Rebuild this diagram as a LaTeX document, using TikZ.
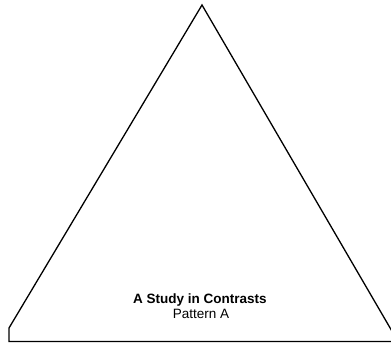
\documentclass[tikz,border=0pt]{standalone}
\usepackage{fontspec}
\setmainfont{Liberation Sans}
\usetikzlibrary{positioning}
\tikzset{
  outline/.style = {draw, line width=1.3pt, line join=miter},
  caption/.style = {align=center, anchor=base, font=\fontsize{13.5}{15}\selectfont}
}
\begin{document}
\begin{tikzpicture}[x=1pt, y=-1pt]
  \useasboundingbox (0,0) rectangle (391,343);
  \clip (0,0) rectangle (391,343);
  \draw [outline] (9,341.5) -- (9,328) -- (202,5) -- (398,341.5) -- cycle;
  \node [caption] (title) at (200,303) {\bfseries A Study in Contrasts};
  \node [caption] (pattern) at (201,318) {Pattern A};
\end{tikzpicture}
\end{document}
